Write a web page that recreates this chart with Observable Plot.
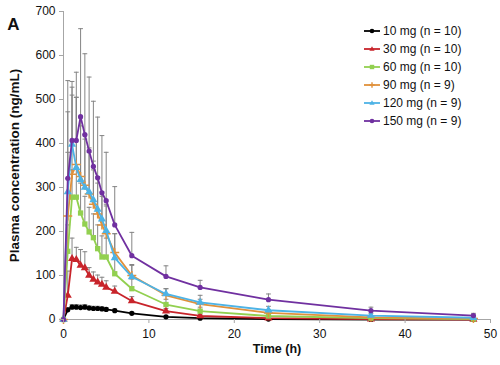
<!DOCTYPE html>
<html>
<head>
<meta charset="utf-8">
<script src="https://cdn.jsdelivr.net/npm/d3@7"></script>
<script src="https://cdn.jsdelivr.net/npm/@observablehq/plot@0.6"></script>
<style>
  html, body { margin: 0; padding: 0; background: #fff; }
  #wrap { position: relative; width: 500px; height: 365px; font-family: "Liberation Sans", Arial, sans-serif; }
  #legend { position: absolute; left: 364px; top: 22px; font-size: 12px; color: #111; }
  #legend .row { display: flex; align-items: center; height: 18px; }
  #legend svg { margin-right: 2px; }
</style>
</head>
<body>
<div id="wrap"></div>
<script>
// ---- data ----
const time = [0, 0.5, 1, 1.5, 2, 2.5, 3, 3.5, 4, 4.5, 5, 6, 8, 12, 16, 24, 36, 48];

const seriesLabels = ["10 mg (n = 10)", "30 mg (n = 10)", "60 mg (n = 10)", "90 mg (n = 9)", "120 mg (n = 9)", "150 mg (n = 9)"];
const seriesColors = ["#000000", "#c8242b", "#92d050", "#e0913c", "#4db3e6", "#7030a0"];
const seriesSymbols = ["circle", "triangle", "square", "plus", "triangle", "circle"];

const mean10  = [0, 22, 28, 28, 27, 28, 26, 25, 25, 24, 23, 20, 14, 6, 3, 1, 0, 0];
const sd10    = [0, 5, 6, 6, 6, 6, 5, 5, 5, 5, 4, 4, 3, 2, 1, 1, 0, 0];
const mean30  = [0, 55, 138, 136, 123, 117, 100, 91, 85, 80, 73, 64, 42, 19, 8, 3, 1, 0];
const sd30    = [0, 55, 47, 28, 36, 37, 18, 17, 16, 16, 15, 12, 10, 6, 4, 2, 1, 1];
const mean60  = [0, 155, 278, 278, 242, 217, 199, 186, 161, 142, 142, 104, 70, 34, 19, 8, 3, 1];
const sd60    = [0, 60, 62, 67, 68, 63, 56, 54, 54, 48, 43, 36, 22, 12, 9, 4, 2, 1];
const mean90  = [0, 235, 330, 352, 325, 305, 285, 262, 240, 215, 195, 152, 100, 55, 35, 15, 5, 2];
const sd90    = [0, 145, 180, 153, 115, 105, 95, 78, 70, 65, 63, 43, 25, 15, 11, 7, 3, 1];
const mean120 = [0, 290, 398, 345, 318, 300, 290, 272, 250, 228, 202, 140, 97, 58, 39, 21, 9, 4];
const sd120   = [0, 182, 130, 160, 140, 120, 100, 88, 75, 62, 60, 55, 26, 12, 16, 9, 5, 2];
const mean150 = [0, 321, 407, 407, 461, 420, 383, 348, 322, 288, 270, 215, 145, 98, 73, 45, 20, 9];
const sd150   = [0, 222, 134, 155, 200, 184, 168, 148, 138, 130, 110, 87, 53, 24, 16, 13, 8, 5];

const xTicks = [0, 10, 20, 30, 40, 50];
const yTicks = [0, 100, 200, 300, 400, 500, 600, 700];

// ---- build table ----
const means = [mean10, mean30, mean60, mean90, mean120, mean150];
const sds = [sd10, sd30, sd60, sd90, sd120, sd150];
const series = seriesLabels.map((label, i) =>
  time.map((t, j) => ({t, v: means[i][j], top: means[i][j] + sds[i][j], s: label}))
);
const all = series.flat();

const capSymbol = { draw(ctx, size) { const w = 2.4; ctx.moveTo(-w, 0); ctx.lineTo(w, 0); } };

const marks = [
  Plot.ruleX(all.filter(d => d.top > d.v), {x: "t", y1: "v", y2: "top", stroke: "#858585", strokeWidth: 1}),
  Plot.dot(all.filter(d => d.top > d.v), {x: "t", y: "top", symbol: capSymbol, stroke: "#858585", strokeWidth: 1, r: 3}),
  Plot.ruleY([0], {stroke: "#a6a6a6", strokeWidth: 1}),
  Plot.ruleX([0], {stroke: "#a6a6a6", strokeWidth: 1}),
];
series.forEach((data, i) => {
  marks.push(Plot.line(data, {x: "t", y: "v", stroke: seriesColors[i], strokeWidth: 1.8}));
  const sym = seriesSymbols[i];
  if (sym === "plus") {
    marks.push(Plot.dot(data, {x: "t", y: "v", symbol: sym, stroke: seriesColors[i], strokeWidth: 1.5, r: 3}));
  } else {
    marks.push(Plot.dot(data, {x: "t", y: "v", symbol: sym, fill: seriesColors[i], r: sym === "circle" ? 2.6 : 3}));
  }
});

marks.push(
  Plot.axisX({ticks: xTicks, tickSize: 4, tickPadding: 6, label: null, fontSize: 12, stroke: "#a6a6a6"}),
  Plot.axisY({ticks: yTicks, tickSize: 4, tickPadding: 4, label: null, fontSize: 12, stroke: "#a6a6a6"}),
  Plot.text(["Plasma concentration (ng/mL)"], {frameAnchor: "left", dx: -49, rotate: -90, textAnchor: "middle", fontSize: 13.5, fontWeight: "bold", fill: "#111"}),
  Plot.text(["Time (h)"], {frameAnchor: "bottom", dy: 33, textAnchor: "middle", fontSize: 12.5, fontWeight: "bold", fill: "#111"}),
  Plot.text(["A"], {frameAnchor: "top-left", dx: -50, dy: 6, fontSize: 17, fontWeight: "bold", fill: "#111", textAnchor: "middle"})
);

const chart = Plot.plot({
  width: 500,
  height: 365,
  marginLeft: 63,
  marginRight: 10,
  marginTop: 11,
  marginBottom: 46,
  style: {fontFamily: "'Liberation Sans', Arial, sans-serif", color: "#111", background: "#fff"},
  x: {domain: [0, 50]},
  y: {domain: [0, 700]},
  marks
});
const wrap = document.getElementById("wrap");
wrap.appendChild(chart);

// ---- legend ----
const legend = document.createElement("div");
legend.id = "legend";
function markerSvg(sym, color) {
  let m = "";
  if (sym === "circle") m = `<circle cx="8" cy="5" r="2.3" fill="${color}"/>`;
  else if (sym === "square") m = `<rect x="5.8" y="2.8" width="4.4" height="4.4" fill="${color}"/>`;
  else if (sym === "triangle") m = `<path d="M8,2.2L10.6,6.8L5.4,6.8Z" fill="${color}"/>`;
  else if (sym === "plus") m = `<path d="M8,2.3V7.7M5.3,5H10.7" stroke="${color}" stroke-width="1.4"/>`;
  return `<svg width="17" height="10"><line x1="0" y1="5" x2="16" y2="5" stroke="${color}" stroke-width="1.8"/>${m}</svg>`;
}
legend.innerHTML = seriesLabels.map((l, i) =>
  `<div class="row">${markerSvg(seriesSymbols[i], seriesColors[i])}<span>${l}</span></div>`
).join("");
wrap.appendChild(legend);
</script>
</body>
</html>
